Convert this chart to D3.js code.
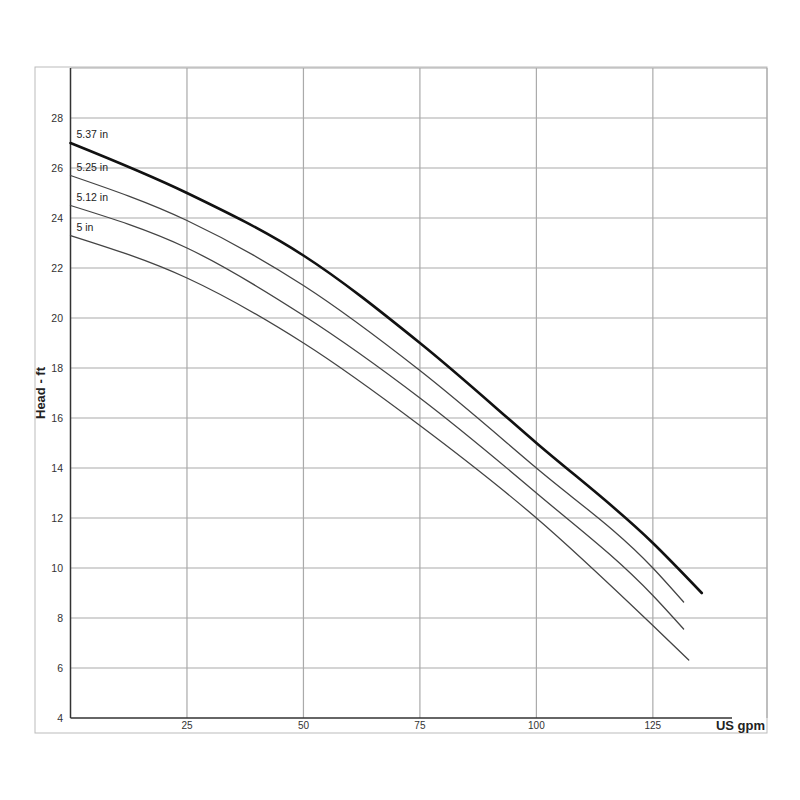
<!DOCTYPE html>
<html><head><meta charset="utf-8">
<script src="https://cdn.jsdelivr.net/npm/d3@7"></script>
<style>body{margin:0;background:#fff}text{font-family:Arial,"Liberation Sans",sans-serif}</style>
</head><body><svg id="c" width="800" height="800"></svg>
<script>
const flows = [0, 25, 50, 75, 100, 125];
const curves = [
  { name: '5.37 in', x: [0, 25, 50, 75, 100, 125, 135.5], y: [27, 25.0, 22.5, 19.0, 15.0, 11.0, 9.0], w: 2.6, color: '#111' },
  { name: '5.25 in', x: [0, 25, 50, 75, 100, 125, 131.6], y: [25.7, 23.9, 21.3, 17.9, 14.0, 10.0, 8.64], w: 1.3, color: '#444' },
  { name: '5.12 in', x: [0, 25, 50, 75, 100, 125, 131.6], y: [24.5, 22.8, 20.1, 16.8, 13.0, 8.9, 7.56], w: 1.3, color: '#444' },
  { name: '5 in', x: [0, 25, 50, 75, 100, 125, 132.7], y: [23.3, 21.6, 19.0, 15.7, 12.0, 7.7, 6.32], w: 1.3, color: '#444' }
];
const yTicks = [4, 6, 8, 10, 12, 14, 16, 18, 20, 22, 24, 26, 28];

const svg = d3.select('#c');
const x = d3.scaleLinear().domain([0, 149.5]).range([70.5, 767]);
const y = d3.scaleLinear().domain([4, 30]).range([718, 68]);

svg.append('rect').attr('x', 35).attr('y', 67).attr('width', 732).attr('height', 666)
  .attr('fill', 'none').attr('stroke', '#bbb');

// grid
svg.append('g').selectAll('line').data(yTicks.slice(1).concat([30])).enter().append('line')
  .attr('x1', x(0)).attr('x2', x(149.5)).attr('y1', d => y(d)).attr('y2', d => y(d))
  .attr('stroke', '#aaa').attr('stroke-width', 1.2);
svg.append('g').selectAll('line').data(flows.slice(1).concat([149.5])).enter().append('line')
  .attr('x1', d => x(d)).attr('x2', d => x(d)).attr('y1', y(4)).attr('y2', y(30))
  .attr('stroke', '#aaa').attr('stroke-width', 1.2);

// axes lines
svg.append('line').attr('x1', x(0)).attr('x2', x(0)).attr('y1', y(4)).attr('y2', y(30)).attr('stroke', '#333').attr('stroke-width', 1.5);
svg.append('line').attr('x1', x(0)).attr('x2', 732).attr('y1', y(4)).attr('y2', y(4)).attr('stroke', '#333').attr('stroke-width', 1.5);

// tick labels
svg.append('g').selectAll('text').data(yTicks).enter().append('text')
  .attr('x', 63).attr('y', d => y(d) + 4).attr('text-anchor', 'end')
  .attr('font-size', 10.5).attr('fill', '#333').text(d => d);
svg.append('g').selectAll('text').data(flows.slice(1)).enter().append('text')
  .attr('x', d => x(d)).attr('y', 729).attr('text-anchor', 'middle')
  .attr('font-size', 10).attr('fill', '#333').text(d => d);

svg.append('text').attr('x', 765).attr('y', 730).attr('text-anchor', 'end')
  .attr('font-size', 13).attr('font-weight', 'bold').attr('fill', '#222').text('US gpm');
svg.append('text').attr('transform', 'translate(45,' + y(17) + ') rotate(-90)')
  .attr('text-anchor', 'middle').attr('font-size', 13).attr('font-weight', 'bold')
  .attr('fill', '#222').text('Head - ft');

// curves
const line = d3.line().x(d => x(d[0])).y(d => y(d[1])).curve(d3.curveMonotoneX);
curves.forEach(c => {
  const pts = c.x.map((v, i) => [v, c.y[i]]);
  svg.append('path').attr('d', line(pts)).attr('fill', 'none')
    .attr('stroke', c.color).attr('stroke-width', c.w).attr('stroke-linecap', 'round');
  svg.append('text').attr('x', x(0) + 6).attr('y', y(c.y[0]) - 5)
    .attr('font-size', 10.5).attr('fill', '#222').text(c.name);
});
</script></body></html>
